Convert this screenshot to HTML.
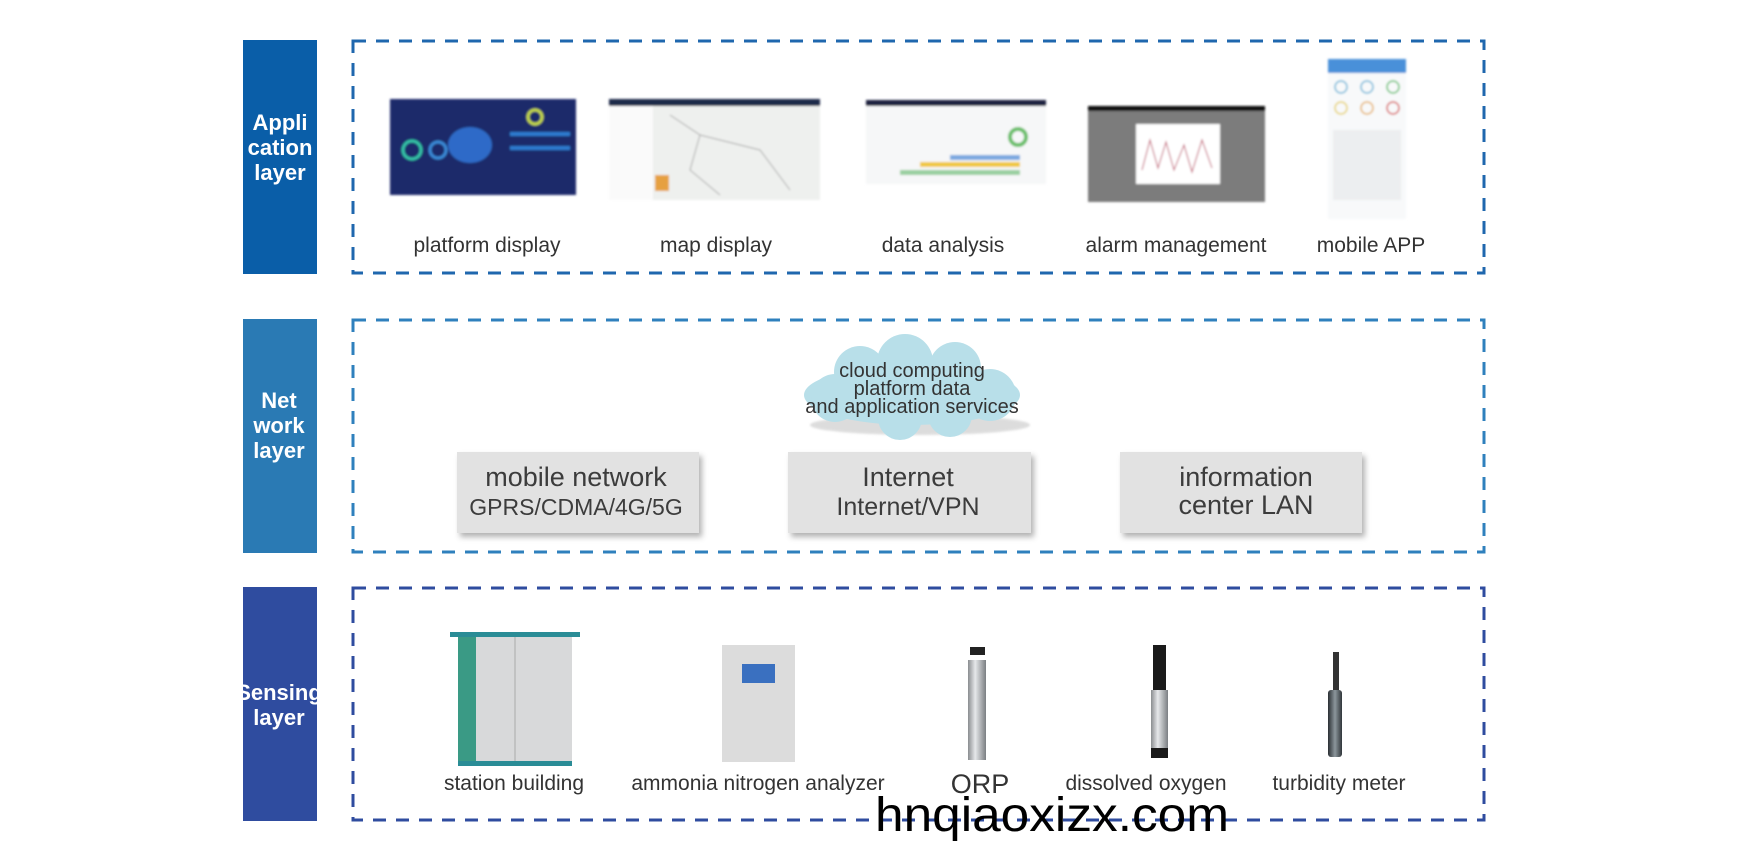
<!DOCTYPE html>
<html><head><meta charset="utf-8"><style>
html,body{margin:0;padding:0;background:#fff;}
svg{display:block;font-family:"Liberation Sans",sans-serif;}
</style></head><body>
<svg width="1744" height="860" viewBox="0 0 1744 860" xmlns="http://www.w3.org/2000/svg">
<defs>
<filter id="sh" x="-10%" y="-10%" width="125%" height="130%"><feDropShadow dx="3" dy="4" stdDeviation="3" flood-color="#000" flood-opacity="0.3"/></filter>
<filter id="bl"><feGaussianBlur stdDeviation="1"/></filter>
<linearGradient id="steel" x1="0" x2="1"><stop offset="0" stop-color="#8a8d90"/><stop offset="0.4" stop-color="#e6e8ea"/><stop offset="1" stop-color="#7b7f83"/></linearGradient>
<linearGradient id="turb" x1="0" x2="1"><stop offset="0" stop-color="#2a2f33"/><stop offset="0.5" stop-color="#8c969c"/><stop offset="1" stop-color="#30363a"/></linearGradient>
</defs>

<rect x="243" y="40" width="74" height="234" fill="#0a5ea8"/>
<rect x="243" y="319" width="74" height="234" fill="#2a7ab4"/>
<rect x="243" y="587" width="74" height="234" fill="#2f4c9f"/>
<g fill="#fff" font-weight="bold" font-size="22" text-anchor="middle">
<text x="280" y="130">Appli</text><text x="280" y="155">cation</text><text x="280" y="180">layer</text>
<text x="279" y="408">Net</text><text x="279" y="433">work</text><text x="279" y="458">layer</text>
<text x="279" y="700">Sensing</text><text x="279" y="725">layer</text>
</g>

<g fill="none" stroke-width="3" stroke-dasharray="13 10">
<rect x="353" y="41" width="1131" height="232" stroke="#1f67ae"/>
<rect x="353" y="320" width="1131" height="232" stroke="#2f80bd"/>
<rect x="353" y="588" width="1131" height="232" stroke="#2f4c9f"/>
</g>

<g filter="url(#bl)">
<rect x="390" y="99" width="186" height="96" fill="#1c2a6a"/>
<ellipse cx="470" cy="145" rx="22" ry="18" fill="#2d6bc8"/>
<circle cx="412" cy="150" r="9" fill="none" stroke="#35c4a8" stroke-width="3"/>
<circle cx="438" cy="150" r="8" fill="none" stroke="#3a8ad8" stroke-width="3"/>
<circle cx="535" cy="117" r="7" fill="none" stroke="#c4d84a" stroke-width="3"/>
<rect x="510" y="132" width="60" height="4" fill="#2f7cd0"/><rect x="510" y="146" width="60" height="4" fill="#2f7cd0"/>
<rect x="609" y="99" width="211" height="101" fill="#eef0ee"/>
<rect x="609" y="99" width="211" height="7" fill="#1e2a48"/>
<rect x="609" y="106" width="44" height="94" fill="#fafafa"/>
<path d="M670 115 L700 135 L690 170 L720 195 M700 135 L760 150 L790 190" stroke="#aaa" fill="none"/>
<rect x="655" y="175" width="14" height="16" fill="#e6a040"/>
<rect x="866" y="100" width="180" height="84" fill="#f6f7f8"/>
<rect x="866" y="100" width="180" height="6" fill="#1a2340"/>
<circle cx="1018" cy="137" r="8" fill="none" stroke="#6bbf6b" stroke-width="4"/>
<rect x="920" y="162" width="100" height="5" fill="#f0c840"/><rect x="900" y="170" width="120" height="5" fill="#9acfa0"/><rect x="950" y="155" width="70" height="5" fill="#7aa8e0"/>
<rect x="1088" y="106" width="177" height="96" fill="#7c7c7c"/>
<rect x="1088" y="106" width="177" height="5" fill="#111"/>
<rect x="1136" y="124" width="84" height="60" fill="#fff"/>
<path d="M1142 170 L1150 140 L1158 168 L1166 142 L1174 170 L1184 145 L1192 172 L1202 140 L1212 168" stroke="#c0506a" fill="none"/>
<rect x="1328" y="59" width="78" height="160" fill="#f8f9fa"/>
<rect x="1328" y="59" width="78" height="14" fill="#4a90d9"/>
<g fill="none" stroke-width="1.5"><circle cx="1341" cy="87" r="6" stroke="#6ab6d8"/><circle cx="1367" cy="87" r="6" stroke="#6ab6d8"/><circle cx="1393" cy="87" r="6" stroke="#5bbf6a"/><circle cx="1341" cy="108" r="6" stroke="#e6d060"/><circle cx="1367" cy="108" r="6" stroke="#e6b060"/><circle cx="1393" cy="108" r="6" stroke="#d85a5a"/></g>
<rect x="1333" y="130" width="68" height="70" fill="#eceef0"/>
</g>
<g fill="#333" font-size="21" text-anchor="middle">
<text x="487" y="252">platform display</text>
<text x="716" y="252">map display</text>
<text x="943" y="252">data analysis</text>
<text x="1176" y="252">alarm management</text>
<text x="1371" y="252">mobile APP</text>
</g>

<ellipse cx="920" cy="425" rx="110" ry="10" fill="#bbb" opacity="0.5" filter="url(#bl)"/>
<g fill="#b8dfe9">
<ellipse cx="912" cy="395" rx="108" ry="30"/>
<circle cx="860" cy="372" r="26"/><circle cx="905" cy="362" r="28"/><circle cx="955" cy="368" r="26"/>
<circle cx="835" cy="398" r="24"/><circle cx="990" cy="395" r="26"/><circle cx="900" cy="418" r="22"/><circle cx="950" cy="415" r="22"/>
</g>
<g fill="#333" font-size="20" text-anchor="middle">
<text x="912" y="377">cloud computing</text>
<text x="912" y="395">platform data</text>
<text x="912" y="413">and application services</text>
</g>

<g fill="#e2e2e2" filter="url(#sh)">
<rect x="457" y="452" width="242" height="81"/>
<rect x="788" y="452" width="243" height="81"/>
<rect x="1120" y="452" width="242" height="81"/>
</g>
<g fill="#3c3c3c" text-anchor="middle">
<text x="576" y="486" font-size="27">mobile network</text>
<text x="576" y="515" font-size="23">GPRS/CDMA/4G/5G</text>
<text x="908" y="486" font-size="27">Internet</text>
<text x="908" y="515" font-size="25">Internet/VPN</text>
<text x="1246" y="486" font-size="27">information</text>
<text x="1246" y="514" font-size="27">center LAN</text>
</g>

<rect x="450" y="632" width="130" height="5" fill="#2a8c96"/>
<rect x="458" y="637" width="114" height="124" fill="#d8d9da"/>
<rect x="458" y="637" width="18" height="124" fill="#3a9a85"/>
<line x1="515" y1="637" x2="515" y2="761" stroke="#aaa"/>
<rect x="458" y="761" width="114" height="5" fill="#2a8c96"/>
<rect x="722" y="645" width="73" height="117" fill="#dcdcdc"/>
<rect x="742" y="664" width="33" height="19" fill="#3a70c0"/>
<rect x="970" y="647" width="15" height="8" fill="#222"/>
<rect x="968" y="660" width="18" height="100" fill="url(#steel)"/>
<rect x="1153" y="645" width="13" height="45" fill="#1a1a1a"/>
<rect x="1151" y="690" width="17" height="58" fill="url(#steel)"/>
<rect x="1151" y="748" width="17" height="10" fill="#1a1a1a"/>
<rect x="1333" y="652" width="6" height="40" fill="#333"/>
<rect x="1328" y="690" width="14" height="67" fill="url(#turb)" rx="3"/>
<g fill="#333" font-size="21" text-anchor="middle">
<text x="514" y="790">station building</text>
<text x="758" y="790">ammonia nitrogen analyzer</text>
<text x="980" y="793" font-size="27">ORP</text>
<text x="1146" y="790">dissolved oxygen</text>
<text x="1339" y="790">turbidity meter</text>
</g>
<text x="875" y="831" font-size="48" fill="#000" textLength="354" lengthAdjust="spacingAndGlyphs">hnqiaoxizx.com</text>
</svg>
</body></html>
